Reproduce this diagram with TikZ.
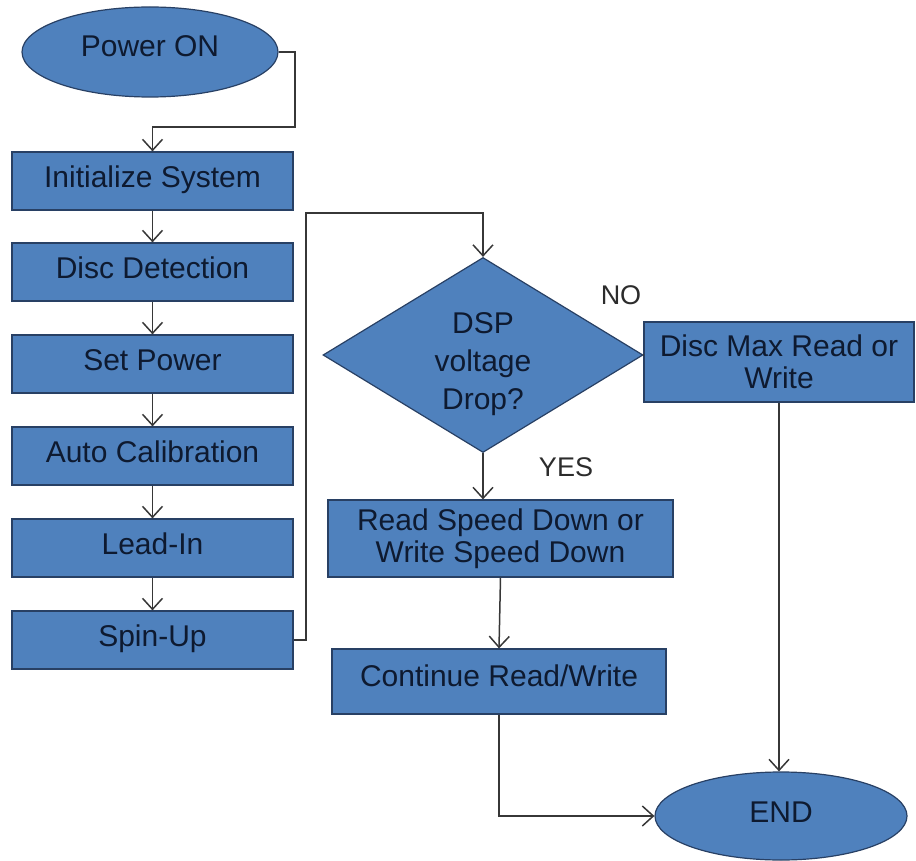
\documentclass[tikz,border=0pt]{standalone}
\usepackage{fontspec}
\setmainfont{Liberation Sans}
\usetikzlibrary{shapes.geometric,arrows.meta}
\definecolor{boxfill}{RGB}{79,129,189}
\definecolor{boxline}{RGB}{40,64,100}
\definecolor{boxtext}{RGB}{14,26,48}
\definecolor{linecol}{RGB}{55,55,55}
\tikzset{
  base/.style={fill=boxfill,draw=boxline,line width=1.2pt,text=boxtext,font=\fontsize{30}{32}\selectfont,align=center,inner sep=0pt},
  oneline/.style={text height=22pt,text depth=9pt},
  procbox/.style={base,rectangle,minimum width=281pt,minimum height=58pt},
  term/.style={base,ellipse,oneline},
  decide/.style={base,diamond,minimum width=320pt,minimum height=195pt},
  arr/.style={draw=linecol,line width=1.5pt,-{Straight Barb[length=11pt,width=20pt,line width=1.5pt]}},
  ln/.style={draw=linecol,line width=1.5pt},
  lbl/.style={text=linecol!80!black,font=\fontsize{27}{30}\selectfont,inner sep=0pt}
}
\begin{document}
\begin{tikzpicture}[x=1pt,y=-1pt]
\useasboundingbox (0,0) rectangle (916,861);
\node[term,minimum width=256pt,minimum height=90pt,text depth=12pt] (pon) at (150,52) {Power ON};
\node[procbox,oneline] (init) at (152.5,181) {Initialize System};
\node[procbox,oneline] (disc) at (152.5,272) {Disc Detection};
\node[procbox,oneline] (setp) at (152.5,364) {Set Power};
\node[procbox,oneline] (acal) at (152.5,456) {Auto Calibration};
\node[procbox,oneline] (lead) at (152.5,548) {Lead-In};
\node[procbox,oneline] (spin) at (152.5,640) {Spin-Up};
\node[decide] (dia) at (483,355) {};
\node[base,fill=none,draw=none] (diat) at (483,364) {DSP\\[6pt]voltage\\[6pt]Drop?};
\node[procbox,minimum width=270pt,minimum height=80pt] (dmax) at (779,362) {Disc Max Read or\\Write};
\node[procbox,minimum width=345pt,minimum height=77pt] (rs) at (500.5,538.5) {Read Speed Down or\\Write Speed Down};
\node[procbox,oneline,minimum width=334pt,minimum height=65pt,text depth=13pt] (cont) at (499,681.5) {Continue Read/Write};
\node[term,minimum width=252pt,minimum height=88pt] (end) at (781,816) {END};
\node[lbl] (no) at (621,295) {NO};
\node[lbl] (yes) at (566,467) {YES};
\coordinate (c1) at (295,127);
\coordinate (c2) at (306,213);
\draw[arr] (pon.east) -| (c1) -| (init.north);
\draw[arr] (init) -- (disc);
\draw[arr] (disc) -- (setp);
\draw[arr] (setp) -- (acal);
\draw[arr] (acal) -- (lead);
\draw[arr] (lead) -- (spin);
\draw[arr] (spin.east) -| (c2) -| (dia.north);
\draw[ln] (dia.east) -- (dmax.west |- dia.east);
\draw[arr] (dia.south) -- (dia.south |- rs.north);
\draw[arr] (rs.south) -- (cont.north);
\draw[arr] (cont.south) |- (end.west);
\draw[arr] (dmax.south) -- (dmax.south |- end.north);
\end{tikzpicture}
\end{document}
